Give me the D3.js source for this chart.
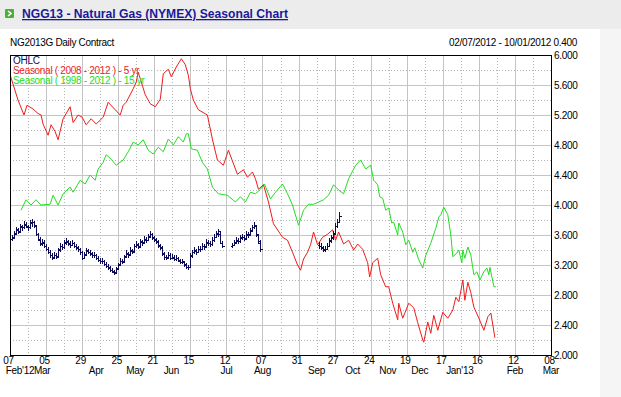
<!DOCTYPE html>
<meta charset="utf-8">
<script src="https://d3js.org/d3.v7.min.js"></script>
<style>
  body { margin: 0; background: #f5f5f5; }
  text { font-family: "Liberation Sans", Arial, sans-serif; }
  .small { font-size: 10px; letter-spacing: -0.3px; }
</style>
<div id="chart"></div>
<script>
  // x is measured in trading days from 07 Feb 2012
  var dayTicks = [0, 18, 36, 54, 72, 90, 108, 126, 144, 162, 180, 198, 216, 234, 252, 270];
  var dayLabels = ["07", "05", "29", "25", "21", "15", "12", "07", "31", "27", "24", "19", "17", "16", "12", "08"];
  var monthAt = [5, 16, 43, 62.5, 80.5, 108, 126, 153, 171, 188.5, 204.5, 224.5, 252, 270];
  var monthLabels = ["Feb'12", "Mar", "Apr", "May", "Jun", "Jul", "Aug", "Sep", "Oct", "Nov", "Dec", "Jan'13", "Feb", "Mar"];
  var priceTicks = [2.0, 2.4, 2.8, 3.2, 3.6, 4.0, 4.4, 4.8, 5.2, 5.6, 6.0];

  // Seasonal ( 2008 - 2012 ) - 5 yr : [day, value]
  var seasonal5 = [[0,5.74],[4,5.40],[7,5.20],[8.5,5.33],[11.5,5.28],[14,5.22],[15.5,5.20],[16.5,5.08],
    [19,4.93],[20.5,5.07],[22.5,4.98],[24,4.87],[26.5,5.15],[30,5.31],[31.5,5.10],[34,5.20],[36,5.17],
    [38,5.07],[40.5,5.15],[43,5.08],[46.5,5.17],[49,5.37],[52.5,5.27],[55,5.20],[56.5,5.33],[58,5.37],
    [61.5,5.55],[63,5.64],[64,5.77],[67.5,5.47],[70,5.35],[72.5,5.31],[75,5.41],[76.5,5.75],[79,5.81],
    [80.5,5.71],[83,5.84],[85.5,5.95],[87.5,5.87],[89,5.73],[90,5.55],[91.5,5.40],[94,5.27],[98.5,5.20],
    [101,4.88],[103.5,4.60],[106.5,4.53],[109,4.73],[113.5,4.41],[116.5,4.47],[118.5,4.37],[121,4.44],
    [122.5,4.35],[124,4.21],[126.5,4.27],[129,4.04],[131.5,3.75],[136,3.57],[138.5,3.53],[141,3.37],
    [143.5,3.20],[145,3.13],[146.5,3.28],[148.5,3.37],[150,3.47],[151.5,3.64],[153.5,3.47],[156,3.57],
    [158.5,3.61],[161,3.67],[162.5,3.53],[164,3.64],[166.5,3.48],[169,3.53],[171.5,3.40],[173.5,3.48],
    [176,3.41],[178.5,3.23],[179.5,3.04],[181,3.23],[183.5,3.29],[185,3.07],[187.5,2.91],[189,2.91],
    [191,2.69],[193.5,2.47],[194,2.69],[196,2.49],[199,2.69],[201.5,2.63],[203.5,2.43],[206,2.20],
    [206.5,2.17],[208.5,2.44],[210,2.29],[211.5,2.53],[213.5,2.33],[216,2.57],[218.5,2.49],[221,2.60],
    [222.5,2.77],[224,2.71],[226,3.00],[227,2.73],[228.5,2.97],[230,2.83],[231.5,2.64],[234,2.49],
    [236.5,2.33],[238.5,2.51],[240,2.56],[242,2.23]];

  // Seasonal ( 1998 - 2012 ) - 15 yr : [day, value]
  var seasonal15 = [[5.5,3.93],[8,4.07],[10.5,4.00],[13,4.07],[15.5,4.00],[20,4.01],[21.5,4.13],[24,4.00],
    [26.5,4.15],[30,4.24],[31.5,4.17],[35,4.33],[37.5,4.28],[40,4.40],[42.5,4.33],[44,4.48],[46.5,4.57],
    [48,4.67],[50.5,4.61],[53,4.53],[56.5,4.60],[59,4.71],[61.5,4.84],[64,4.80],[66.5,4.87],[69,4.73],
    [71.5,4.68],[74,4.77],[76.5,4.71],[79,4.88],[81.5,4.80],[84,4.91],[86.5,4.84],[88,4.95],[89,4.95],
    [90.5,4.75],[93.5,4.73],[96,4.57],[98.5,4.48],[101,4.24],[104,4.15],[108.5,4.13],[112.5,4.04],
    [115,4.11],[117.5,4.04],[120,4.17],[122.5,4.15],[125,4.21],[127,4.28],[130,4.08],[132.5,4.17],
    [136,4.28],[138.5,4.15],[141,4.00],[144,3.73],[146.5,3.93],[149,4.01],[151.5,4.01],[154,4.04],
    [156.5,4.07],[159,4.13],[161.5,4.27],[164,4.20],[166.5,4.15],[169,4.35],[172.5,4.53],[175,4.60],
    [177.5,4.48],[180,4.53],[181.5,4.33],[183.5,4.27],[184.5,4.11],[186,4.09],[187.5,3.93],[189,3.96],
    [190.5,3.76],[191.5,3.77],[193.5,3.60],[194,3.76],[196,3.64],[197.5,3.47],[199,3.53],[201,3.37],
    [202,3.43],[204,3.27],[206,3.16],[207.5,3.33],[210,3.49],[212.5,3.69],[214,3.84],[215,3.87],
    [216.5,3.97],[218.5,3.87],[220,3.60],[221,3.31],[223,3.36],[224,3.40],[225.5,3.23],[226,3.40],
    [227,3.29],[228.5,3.44],[230,3.33],[231.5,3.07],[233,3.11],[234.5,3.00],[236.5,3.11],[238,3.16],
    [239,3.07],[239.5,3.17],[241.5,2.91],[242.5,2.91]];

  // NG2013G daily bars [open, high, low, close], three runs of days
  var ohlcStarts = [1, 111, 154];
  var ohlcA = [[3.55,3.60,3.52,3.56],[3.57,3.65,3.55,3.62],[3.63,3.71,3.60,3.68],[3.67,3.70,3.61,3.64],
    [3.65,3.75,3.63,3.72],[3.71,3.74,3.66,3.70],[3.70,3.79,3.68,3.75],[3.74,3.77,3.69,3.72],
    [3.71,3.74,3.65,3.70],[3.70,3.80,3.68,3.76],[3.77,3.81,3.71,3.78],[3.77,3.79,3.70,3.74],
    [3.72,3.74,3.59,3.62],[3.61,3.63,3.52,3.55],[3.54,3.57,3.46,3.49],[3.48,3.55,3.46,3.51],
    [3.50,3.53,3.43,3.46],[3.46,3.48,3.39,3.42],[3.41,3.44,3.35,3.38],[3.37,3.40,3.30,3.33],
    [3.33,3.36,3.27,3.30],[3.31,3.38,3.29,3.34],[3.33,3.36,3.28,3.31],[3.32,3.43,3.30,3.40],
    [3.41,3.49,3.38,3.46],[3.45,3.48,3.40,3.44],[3.44,3.54,3.42,3.50],[3.51,3.56,3.47,3.52],
    [3.51,3.54,3.45,3.49],[3.48,3.52,3.43,3.47],[3.47,3.53,3.45,3.50],[3.49,3.51,3.43,3.46],
    [3.45,3.48,3.40,3.44],[3.43,3.46,3.38,3.42],[3.41,3.43,3.34,3.38],[3.37,3.39,3.27,3.30],
    [3.30,3.37,3.28,3.34],[3.35,3.43,3.33,3.40],[3.39,3.42,3.35,3.38],[3.37,3.40,3.32,3.36],
    [3.35,3.38,3.30,3.33],[3.33,3.37,3.30,3.34],[3.33,3.35,3.27,3.30],[3.29,3.32,3.24,3.27],
    [3.27,3.30,3.22,3.25],[3.25,3.29,3.22,3.26],[3.25,3.27,3.19,3.22],[3.21,3.24,3.16,3.19],
    [3.19,3.21,3.14,3.17],[3.16,3.19,3.11,3.14],[3.13,3.16,3.09,3.12],[3.11,3.14,3.07,3.10],
    [3.11,3.18,3.09,3.15],[3.16,3.23,3.14,3.20],[3.21,3.29,3.19,3.26],[3.25,3.28,3.21,3.24],
    [3.25,3.34,3.23,3.31],[3.32,3.40,3.29,3.36],[3.35,3.38,3.30,3.34],[3.35,3.44,3.33,3.40],
    [3.39,3.42,3.35,3.38],[3.39,3.48,3.37,3.45],[3.46,3.52,3.43,3.48],[3.47,3.50,3.41,3.44],
    [3.45,3.55,3.43,3.52],[3.51,3.54,3.46,3.50],[3.51,3.59,3.48,3.55],[3.54,3.57,3.49,3.53],
    [3.54,3.62,3.52,3.58],[3.59,3.65,3.56,3.62],[3.61,3.63,3.54,3.57],[3.56,3.59,3.51,3.55],
    [3.54,3.56,3.48,3.52],[3.51,3.53,3.43,3.47],[3.46,3.48,3.40,3.44],[3.43,3.45,3.32,3.36],
    [3.35,3.37,3.27,3.31],[3.31,3.34,3.27,3.30],[3.31,3.38,3.29,3.34],[3.33,3.36,3.27,3.30],
    [3.30,3.35,3.28,3.31],[3.30,3.33,3.25,3.28],[3.28,3.33,3.26,3.30],[3.29,3.31,3.24,3.27],
    [3.26,3.28,3.21,3.24],[3.24,3.28,3.22,3.25],[3.24,3.26,3.18,3.21],[3.20,3.23,3.15,3.18],
    [3.18,3.20,3.14,3.17],[3.18,3.36,3.17,3.33],[3.32,3.40,3.30,3.37],[3.38,3.44,3.35,3.40],
    [3.39,3.42,3.34,3.38],[3.38,3.46,3.36,3.42],[3.41,3.45,3.37,3.41],[3.42,3.50,3.40,3.46],
    [3.45,3.48,3.40,3.44],[3.45,3.55,3.43,3.51],[3.50,3.54,3.46,3.50],[3.49,3.52,3.44,3.48],
    [3.48,3.57,3.46,3.53],[3.54,3.61,3.51,3.58],[3.58,3.66,3.56,3.62],[3.63,3.68,3.58,3.65],
    [3.62,3.64,3.48,3.50],[3.49,3.52,3.43,3.46]];
  var ohlcB = [[3.46,3.50,3.43,3.47],[3.47,3.54,3.45,3.50],[3.51,3.57,3.48,3.53],[3.52,3.56,3.48,3.52],
    [3.52,3.60,3.50,3.56],[3.57,3.62,3.53,3.58],[3.57,3.60,3.52,3.55],[3.56,3.65,3.54,3.61],
    [3.60,3.64,3.56,3.60],[3.61,3.70,3.59,3.66],[3.67,3.74,3.64,3.70],[3.71,3.78,3.68,3.74],
    [3.72,3.74,3.58,3.62],[3.60,3.62,3.48,3.52],[3.50,3.53,3.38,3.42]];
  var ohlcC = [[3.47,3.51,3.42,3.46],[3.46,3.49,3.40,3.44],[3.43,3.46,3.37,3.40],[3.41,3.46,3.38,3.42],
    [3.42,3.49,3.40,3.45],[3.46,3.56,3.44,3.52],[3.53,3.60,3.50,3.56],[3.57,3.66,3.54,3.62],
    [3.63,3.76,3.61,3.72],[3.72,3.82,3.69,3.78],[3.78,3.91,3.76,3.86]];

  var W = 621, H = 397;
  var plotBox = { left: 10, right: 551, top: 55, bottom: 355 };

  var svg = d3.select("#chart").append("svg")
      .attr("width", W)
      .attr("height", H);

  // page header and white panel
  svg.append("rect").attr("width", W).attr("height", 29).attr("fill", "#ececec");
  svg.append("rect").attr("x", 0).attr("y", 29).attr("width", 600).attr("height", H - 29).attr("fill", "#ffffff");

  svg.append("rect")
      .attr("x", 5).attr("y", 9).attr("width", 9).attr("height", 9).attr("rx", 1)
      .attr("fill", "#4caf3a");
  svg.append("path")
      .attr("d", "M8,11 L11,13.5 L8,16")
      .attr("fill", "none").attr("stroke", "#fff").attr("stroke-width", 1.6);
  svg.append("text")
      .attr("x", 22).attr("y", 18)
      .attr("textLength", 266).attr("lengthAdjust", "spacingAndGlyphs")
      .style("font-size", "13px").style("font-weight", "bold")
      .style("fill", "#1a1a99").style("text-decoration", "underline")
      .text("NGG13 - Natural Gas (NYMEX) Seasonal Chart");

  svg.append("text").attr("class", "small")
      .attr("x", 10).attr("y", 46)
      .text("NG2013G Daily Contract");
  svg.append("text").attr("class", "small")
      .attr("x", 577).attr("y", 46).attr("text-anchor", "end")
      .text("02/07/2012 - 10/01/2012 0.400");

  var x = d3.scaleLinear().domain([0, 270]).range([plotBox.left, plotBox.right]);
  var y = d3.scaleLinear().domain([2, 6]).range([plotBox.bottom, plotBox.top]);

  // grid: solid on labelled ticks, dotted halfway
  var g = svg.append("g").attr("shape-rendering", "crispEdges");
  var vGrid = d3.range(0, 271, 9);
  g.selectAll("line.v").data(vGrid).enter().append("line")
      .attr("x1", d => Math.round(x(d)) + 0.5).attr("x2", d => Math.round(x(d)) + 0.5)
      .attr("y1", plotBox.top).attr("y2", plotBox.bottom)
      .attr("stroke", d => d % 18 === 0 ? "#c4c4c4" : "#b4b4b4")
      .attr("stroke-dasharray", d => d % 18 === 0 ? null : "1,2");
  var hGrid = d3.range(0, 21).map(i => 2 + i * 0.2);
  g.selectAll("line.h").data(hGrid).enter().append("line")
      .attr("x1", plotBox.left).attr("x2", plotBox.right)
      .attr("y1", d => Math.round(y(d)) + 0.5).attr("y2", d => Math.round(y(d)) + 0.5)
      .attr("stroke", (d, i) => i % 2 === 0 ? "#c4c4c4" : "#b4b4b4")
      .attr("stroke-dasharray", (d, i) => i % 2 === 0 ? null : "1,2");

  svg.append("clipPath").attr("id", "plot")
    .append("rect").attr("x", plotBox.left).attr("y", plotBox.top)
      .attr("width", plotBox.right - plotBox.left).attr("height", plotBox.bottom - plotBox.top);
  var plot = svg.append("g").attr("clip-path", "url(#plot)");

  var line = d3.line().x(d => x(d[0])).y(d => y(d[1]));

  plot.append("path").datum(seasonal15)
      .attr("fill", "none").attr("stroke", "#22dd22").attr("stroke-width", 1)
      .attr("d", line);
  plot.append("path").datum(seasonal5)
      .attr("fill", "none").attr("stroke", "#ee1c1c").attr("stroke-width", 1)
      .attr("d", line);

  var bars = [ohlcA, ohlcB, ohlcC].flatMap((seg, s) =>
      seg.map((b, i) => ({ day: ohlcStarts[s] + i, o: b[0], h: b[1], l: b[2], c: b[3] })));

  var px = d => Math.round(x(d.day)) + 0.5;
  var ob = plot.append("g").attr("stroke", "#0c0c55").attr("stroke-width", 1).attr("shape-rendering", "crispEdges");
  ob.selectAll("line.hl").data(bars).enter().append("line")
      .attr("x1", px).attr("x2", px)
      .attr("y1", d => y(d.h)).attr("y2", d => y(d.l));
  ob.selectAll("line.o").data(bars).enter().append("line")
      .attr("x1", d => px(d) - 2).attr("x2", px)
      .attr("y1", d => Math.round(y(d.o)) + 0.5).attr("y2", d => Math.round(y(d.o)) + 0.5);
  ob.selectAll("line.c").data(bars).enter().append("line")
      .attr("x1", px).attr("x2", d => px(d) + 2)
      .attr("y1", d => Math.round(y(d.c)) + 0.5).attr("y2", d => Math.round(y(d.c)) + 0.5);

  // legend
  var legend = [["OHLC", "#0c0c55"], ["Seasonal ( 2008 - 2012 ) - 5 yr", "#ee1c1c"], ["Seasonal ( 1998 - 2012 ) - 15 yr", "#22dd22"]];
  svg.selectAll("text.leg").data(legend).enter().append("text")
      .attr("class", "small")
      .attr("x", 13).attr("y", (d, i) => 64 + i * 10)
      .style("fill", d => d[1])
      .text(d => d[0]);

  // frame
  svg.append("rect")
      .attr("x", plotBox.left + 0.5).attr("y", plotBox.top + 0.5)
      .attr("width", plotBox.right - plotBox.left).attr("height", plotBox.bottom - plotBox.top)
      .attr("fill", "none").attr("stroke", "#000").attr("shape-rendering", "crispEdges");

  // axes
  var yAxis = svg.append("g")
      .attr("transform", "translate(" + (plotBox.right + 1) + ",0)")
      .call(d3.axisRight(y).tickValues(priceTicks).tickFormat(d3.format(".3f")).tickSize(0).tickPadding(2));
  yAxis.attr("font-family", null).attr("font-size", null);
  yAxis.select(".domain").remove();
  yAxis.selectAll("text").attr("class", "small").attr("fill", "#000");

  var xAxis = svg.append("g")
      .attr("transform", "translate(-2," + plotBox.bottom + ")")
      .call(d3.axisBottom(x).tickValues(dayTicks).tickFormat((d, i) => dayLabels[i]).tickSize(0).tickPadding(2));
  xAxis.attr("font-family", null).attr("font-size", null);
  xAxis.select(".domain").remove();
  xAxis.selectAll("text").attr("class", "small").attr("dy", null).attr("y", 9).attr("fill", "#000");

  svg.selectAll("text.month").data(monthLabels).enter().append("text")
      .attr("class", "small")
      .attr("x", (d, i) => x(monthAt[i]))
      .attr("y", 374)
      .attr("text-anchor", "middle")
      .text(d => d);
</script>
